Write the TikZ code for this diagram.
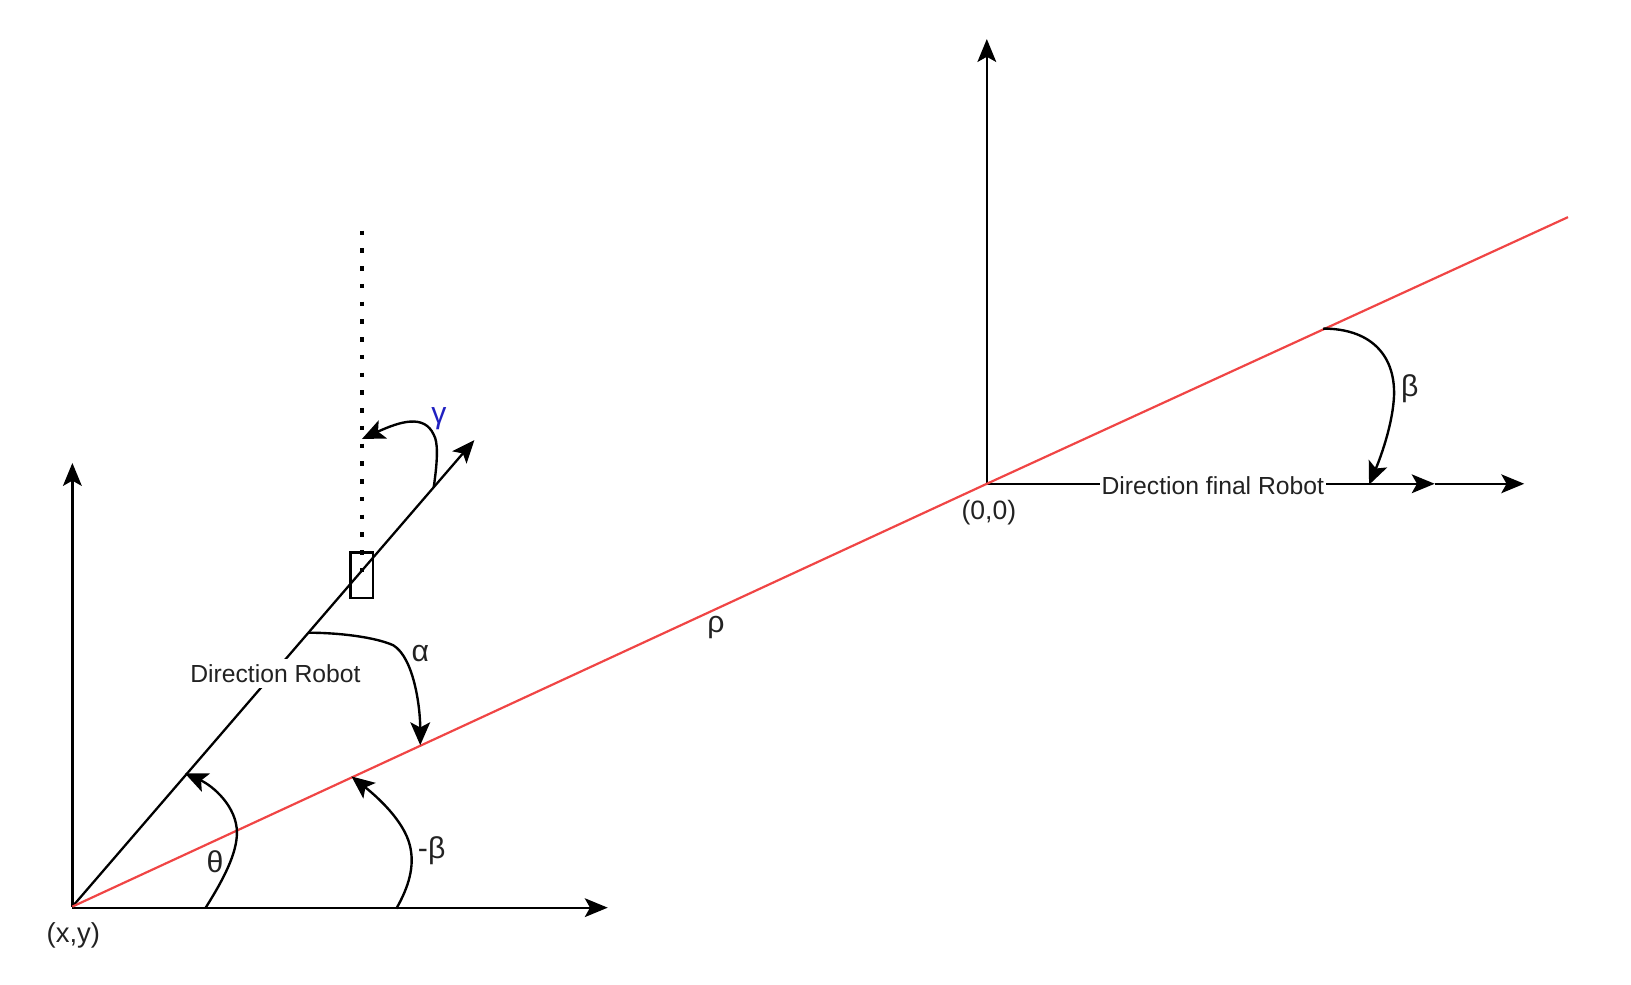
\documentclass[tikz,border=0pt]{standalone}
\usepackage{fontspec}
\setmainfont{Liberation Sans}
\usepackage{xcolor}
\usetikzlibrary{arrows.meta}
\definecolor{redline}{HTML}{F04545}
\definecolor{gammablue}{HTML}{2020C0}
\definecolor{labelgray}{HTML}{222222}
\tikzset{
	axisline/.style={line width=1.25pt, -{Stealth[length=0.44cm, width=0.36cm, inset=0.1cm]}},
	angleline/.style={line width=1.3pt, -{Stealth[length=0.44cm, width=0.38cm, inset=0.1cm]}},
	labeltext/.style={inner sep=1pt, text=labelgray, font=\fontsize{13.5}{15}\selectfont},
	greektext/.style={labeltext, font=\fontsize{16.5}{18}\selectfont},
	whitelabel/.style={labeltext, fill=white, inner ysep=3pt}
}

\begin{document}
\begin{tikzpicture}[x=0.02cm, y=-0.02cm]
	\useasboundingbox (0.5,0.5) rectangle (1566.5,945.5);
	% frame at the robot
	\coordinate (robotO) at (70,871);
	\coordinate (robotY) at (70,445);
	\coordinate (robotX) at (584,872);
	\coordinate (robotDir) at (456,423);
	\coordinate (dotTop) at (348,222);
	\coordinate (dotEnd) at (348,552);
	% frame at the goal
	\coordinate (goalO) at (948,465);
	\coordinate (goalY) at (948,38);
	\coordinate (goalMid) at (1378,465);
	\coordinate (goalX) at (1464,465);
	\coordinate (redEnd) at (1506,209);

	\draw[axisline] (robotO) -- (robotY);
	\draw[axisline] (70,872) -- (robotX);
	\draw[axisline] (robotO) -- (robotDir);
	\draw[axisline] (goalO) -- (goalY);
	\draw[axisline] (goalO) -- (goalMid);
	\draw[axisline] (goalMid) -- (goalX);
	\draw[line width=2.4pt, dash pattern=on 2.4pt off 7.3pt] (dotTop) -- (dotEnd);
	\draw[line width=1.2pt] (337,531) rectangle (359,575);
	\draw[redline, line width=1.2pt] (robotO) -- (goalO) -- (redEnd);

	% angle arcs
	\coordinate (thetaA) at (198,872);
	\coordinate (thetaB) at (178,743);
	\coordinate (mbetaA) at (381,873);
	\coordinate (mbetaB) at (338,746);
	\coordinate (alphaA) at (297,608);
	\coordinate (alphaB) at (404,716);
	\coordinate (gammaA) at (417,468);
	\coordinate (gammaB) at (348,422);
	\coordinate (betaA) at (1271,316);
	\coordinate (betaB) at (1315,466);
	\draw[angleline] (thetaA) .. controls (215,845) and (228,820) .. (228,800) .. controls (228,775) and (205,755) .. (thetaB);
	\draw[angleline] (mbetaA) .. controls (393,852) and (399,832) .. (394,812) .. controls (388,788) and (362,765) .. (mbetaB);
	\draw[angleline] (alphaA) .. controls (325,608) and (360,612) .. (378,620) .. controls (398,632) and (404,680) .. (alphaB);
	\draw[angleline] (gammaA) .. controls (421,440) and (421,425) .. (417,418) .. controls (408,398) and (385,405) .. (gammaB);
	\draw[angleline] (betaA) .. controls (1315,316) and (1340,340) .. (1339,380) .. controls (1338,405) and (1328,435) .. (betaB);

	% labels
	\node[whitelabel] (dirRobot) at (265,647) {Direction Robot};
	\node[whitelabel, inner ysep=5pt] (dirFinal) at (1165,467) {Direction final Robot};
	\node[labeltext, font=\fontsize{15}{17}\selectfont] (robotPos) at (71,899) {(x,y)};
	\node[labeltext, font=\fontsize{14.5}{16}\selectfont] (goalPos) at (950,493) {(0,0)};
	\node[greektext] (rhoLabel) at (688,603) {ρ};
	\node[greektext] (alphaLabel) at (404,628) {α};
	\node[greektext] (thetaLabel) at (207,828) {θ};
	\node[greektext] (mbetaLabel) at (415,817) {-β};
	\node[greektext] (betaLabel) at (1354,374) {β};
	\node[greektext, text=gammablue] (gammaLabel) at (422,402) {γ};
\end{tikzpicture}
\end{document}
